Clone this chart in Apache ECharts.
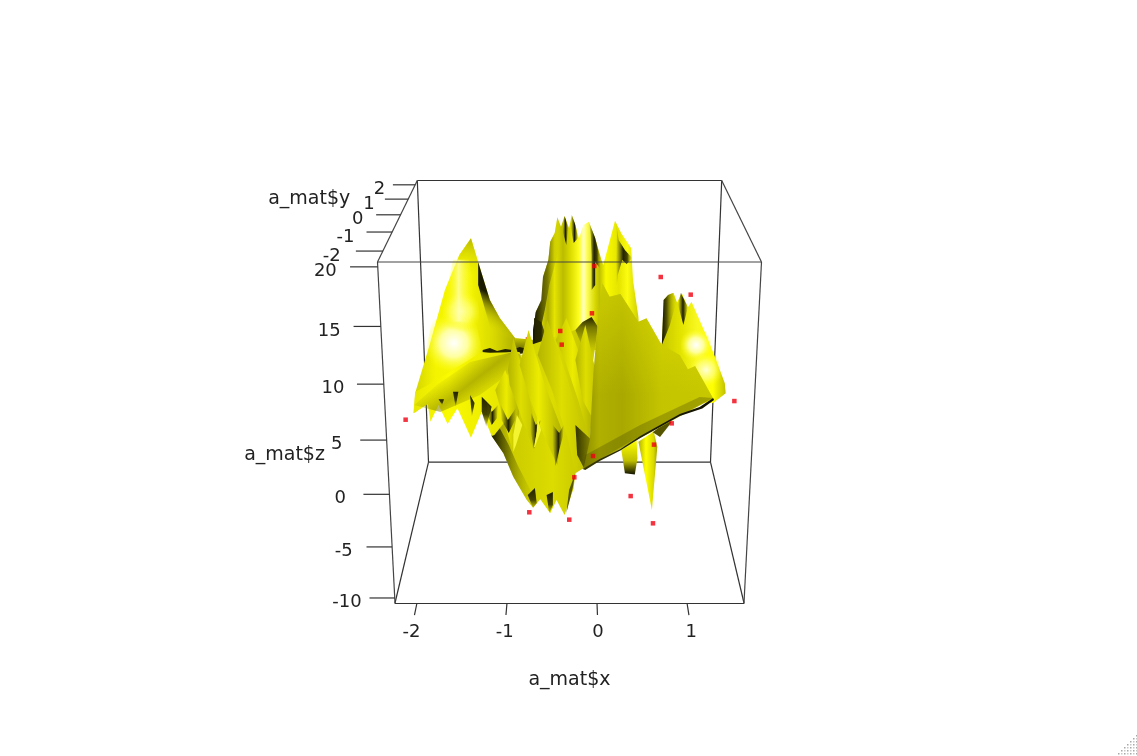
<!DOCTYPE html>
<html><head><meta charset="utf-8">
<style>html,body{margin:0;padding:0;background:#fff}#c{width:1137px;height:756px}</style>
<script src="https://cdn.jsdelivr.net/npm/echarts@6/dist/echarts.min.js"></script></head>
<body><div id="c"></div><script>
// ---------- tick labels ----------
const xTicks=[-2,-1,0,1];
const yTicks=[-2,-1,0,1,2];
const zTicks=[-10,-5,0,5,10,15,20];
// ---------- red observations, as seen on the x / z view plane ----------
const pointX=[-1.444,-.459,-.167,.374,-.03,.708,1.041,-.056,-.408,-.392,-2.126,1.526,.83,.633,-.044,-.252,.374,-.752,-.308,.622];
const pointZ=[23.33,25.36,24.93,24.72,20.04,19.04,17.44,15.75,14.15,12.91,6.11,7.8,5.78,3.85,2.82,.89,-.81,-2.28,-2.95,-3.28];
const hiddenPointX=[-.767,.756];
const hiddenPointZ=[13.38,5.72];
// ---------- surface sheets: [x,z] on the view plane, back to front ----------
const leftPeak=[[-1.40,22.55],[-1.32,20.40],[-1.19,16.96],[-1.08,15.33],[-.91,13.51],[-.86,12.25],[-1.19,12.25],[-1.78,8.17],[-2.03,6.72],[-2.02,8.53],[-1.86,12.88],[-1.69,17.86],[-1.53,21.03]];
const peakCap=[[-1.40,22.55],[-1.32,20.40],[-1.27,19.0],[-1.62,19.0],[-1.53,21.03]];
const glowLow=[[-1.80,16.5],[-1.38,16.5],[-1.28,12.43],[-1.41,9.6],[-1.74,9.6],[-1.90,12.43]];
const glowMid=[[-1.68,18.6],[-1.34,18.6],[-1.30,15.0],[-1.36,13.2],[-1.66,13.2],[-1.72,15.0]];
const glowHigh=[[-1.60,20.6],[-1.42,20.6],[-1.36,17.4],[-1.40,15.0],[-1.64,15.0],[-1.68,17.4]];
const peakShadow=[[-1.32,20.40],[-1.19,16.96],[-1.08,15.33],[-.91,13.51],[-.86,12.25],[-1.11,12.25],[-1.21,15.15],[-1.32,18.32]];
const valley=[[-.91,13.51],[-.69,13.33],[-.58,13.79],[-.52,12.25],[-.91,12.07]];
const wiggle=[[-1.27,12.43],[-1.19,12.61],[-1.11,12.34],[-1.02,12.52],[-.94,12.43],[-.86,12.70],[-.74,12.43],[-.63,12.52],[-.56,12.43],[-.56,12.16],[-.74,12.07],[-.91,12.25],[-1.11,12.07],[-1.27,12.25]];
const midMountain=[[-.71,12.43],[-.71,14.24],[-.68,15.90],[-.61,16.96],[-.60,19.07],[-.54,20.58],[-.52,22.24],[-.47,23.03],[-.44,24.45],[-.40,23.60],[-.36,24.57],[-.31,23.45],[-.28,24.66],[-.24,23.75],[-.20,22.55],[-.15,23.75],[-.09,24.05],[-.02,22.55],[.05,20.58],[.07,20.13],[.20,24.14],[.27,23.0],[.38,21.64],[.40,18.77],[.46,15.44],[.48,12.43]];
const midEdge=[[-.60,19.04],[-.54,20.58],[-.52,22.21],[-.47,23.03],[-.44,24.48],[-.40,22.39],[-.46,20.40],[-.53,18.32],[-.58,16.05],[-.63,14.24],[-.69,12.61],[-.71,12.88],[-.71,14.24],[-.68,15.87],[-.62,16.96]];
const midDarkLow=[[-.70,15.33],[-.62,14.96],[-.50,12.16],[-.67,12.07]];
const spikeA=[[-.36,24.57],[-.32,23.48],[-.34,21.94],[-.38,23.12]];
const spikeB=[[-.28,24.66],[-.24,23.75],[-.21,22.58],[-.26,22.12],[-.29,23.48]];
const stripeB=[[-.09,24.02],[-.02,22.58],[.04,20.58],[.03,19.86],[-.02,20.40],[-.02,18.32],[-.06,17.86],[-.06,21.03],[-.07,22.85]];
const stripeC=[[.21,24.11],[.24,22.39],[.31,21.49],[.39,20.76],[.33,20.22],[.28,20.58],[.23,19.22],[.22,18.32],[.21,20.40],[.22,22.85]];
const bump=[[-.27,13.97],[-.16,14.96],[-.06,15.42],[.01,14.51],[-.04,11.52],[-.14,12.61],[-.22,12.43]];
const rightMountain=[[.72,12.88],[.74,16.96],[.79,17.41],[.85,17.62],[.89,16.71],[.94,17.62],[1.01,16.29],[1.05,16.80],[1.22,13.63],[1.31,11.82],[1.42,9.41],[1.43,8.50],[1.29,7.62],[.72,7.62]];
const rightGlowA=[[.92,14.24],[1.26,14.24],[1.28,11.52],[.94,11.52]];
const rightGlowB=[[1.03,12.25],[1.34,12.25],[1.39,9.26],[1.08,8.98]];
const rightDarkA=[[.74,16.96],[.79,17.41],[.84,17.59],[.88,16.68],[.81,14.69],[.72,12.88]];
const rightDarkB=[[.93,17.59],[1.01,16.32],[.96,14.69],[.90,16.50]];
const stalA=[[.27,3.37],[.44,4.27],[.45,2.64],[.42,1.15],[.31,1.25]];
const stalB=[[.46,4.12],[.63,5.03],[.67,3.66],[.61,-2.07],[.50,2.46]];
const stalC=[[.62,4.98],[.79,6.09],[.83,5.90],[.70,4.54]];
const lowerMass=[[-1.17,4.63],[-1.04,3.07],[-.93,.95],[-.78,-1.17],[-.71,-1.86],[-.63,-1.10],[-.52,-2.37],[-.45,-1.17],[-.36,-2.52],[-.26,-.10],[-.24,1.25],[-.15,1.71],[-.08,4.27],[-.04,10.32],[-.24,14.24],[-.74,12.88],[-1.08,8.80]];
const massEdge=[[-1.17,4.63],[-1.04,3.07],[-.93,.95],[-.78,-1.17],[-.71,-1.80],[-.74,-.26],[-.88,1.97],[-.98,3.82],[-1.10,5.63],[-1.19,6.99]];
const tipA=[[-.77,-.71],[-.69,-.08],[-.67,-1.44],[-.71,-1.89]];
const tipB=[[-.56,-.71],[-.49,-.44],[-.49,-1.62],[-.53,-2.34]];
const tipC=[[-.24,1.28],[-.27,-.08],[-.34,-2.34],[-.31,-.26]];
const foldLeft=[[-2.04,6.69],[-2.02,8.62],[-1.78,9.71],[-1.30,12.15],[-.86,12.25],[-.74,8.80],[-1.14,4.72],[-1.17,4.63],[-1.28,6.84],[-1.40,4.48],[-1.55,7.14],[-1.66,5.72],[-1.76,7.44],[-1.85,5.93],[-1.88,7.53]];
const foldCrease=[[-2.03,7.44],[-1.78,9.25],[-1.41,11.34],[-.93,12.25],[-.74,11.70],[-1.30,8.35],[-1.74,6.81]];
const notchA=[[-1.76,7.96],[-1.70,7.96],[-1.72,7.44]];
const notchB=[[-1.60,8.65],[-1.54,8.65],[-1.57,7.29]];
const notchC=[[-1.41,8.35],[-1.36,7.62],[-1.39,6.38]];
const notchD=[[-1.28,8.20],[-1.17,7.29],[-1.23,5.48],[-1.28,6.84]];
const fanZ=[[-1.02,10.62],[-.86,6.99],[-.93,3.09],[-1.02,5.63],[-1.13,8.80]];
const fanA=[[-.93,13.51],[-.79,9.71],[-.70,6.08],[-.71,3.55],[-.83,6.08],[-.97,9.26],[-.99,10.62]];
const fanB=[[-.76,14.24],[-.58,9.26],[-.39,5.18],[-.44,2.01],[-.57,4.27],[-.74,7.90],[-.86,11.07]];
const fanC=[[-.55,15.15],[-.34,10.16],[-.13,4.27],[-.24,1.28],[-.32,4.27],[-.50,8.80],[-.66,11.97]];
const fanD=[[-.34,15.33],[-.17,11.52],[-.04,7.90],[-.08,4.27],[-.21,7.90],[-.36,11.52],[-.46,13.33]];
const fanE=[[-.13,14.69],[-.01,10.34],[-.04,6.08],[-.16,7.90],[-.24,11.52]];
const zigU1=[[-1.22,7.72],[-1.17,6.81],[-1.10,7.44],[-1.11,6.27],[-1.17,5.63],[-1.22,6.63]];
const zigU2=[[-1.07,7.44],[-.99,6.08],[-.90,7.17],[-.91,6.08],[-.98,4.91],[-1.06,6.08]];
const zigU3=[[-.73,6.72],[-.68,5.63],[-.62,6.08],[-.67,4.98],[-.70,3.46],[-.74,5.18]];
const zigU4=[[-.49,5.63],[-.42,4.91],[-.37,5.63],[-.38,4.54],[-.42,3.37],[-.46,1.92],[-.49,3.82]];
const brightB=[[-.89,6.54],[-.83,5.63],[-.90,3.82],[-.93,3.19],[-.93,4.73]];
const brightC=[[-.66,6.27],[-.62,5.18],[-.69,3.64],[-.70,3.64],[-.67,4.98]];
const flatDarkTip=[[-.24,5.63],[-.06,4.27],[-.14,1.65],[-.22,2.91]];
const flatSheet=[[.06,18.47],[.14,17.26],[.26,17.50],[.46,14.99],[.55,15.30],[.72,12.88],[.92,11.97],[1.01,10.68],[1.09,10.98],[1.29,8.05],[-.15,1.64],[-.08,4.27],[-.04,10.34],[.01,15.14]];
const flatShade=[[-.13,2.91],[.48,5.63],[1.14,8.17],[1.29,8.08],[.48,4.63],[-.16,1.65]];
const flatEdge=[[-.16,1.65],[.03,2.55],[.26,3.46],[.48,4.63],[.70,5.63],[.92,6.63],[1.14,7.26],[1.29,8.08],[1.30,7.90],[1.17,7.13],[.92,6.45],[.70,5.45],[.48,4.45],[.26,3.32],[.03,2.37],[-.13,1.55]];

// ---------- view and paint ----------
const xLo=-2.244,xHi=1.633,yLo=-2.53,yHi=2.32,zLo=-10.5,zHi=20.4,xMid=(xLo+xHi)/2;
function project(x,y,z){
  const s=(y-yLo)/(yHi-yLo),t=(z-zLo)/(zHi-zLo),w=1+.2376*s-.0911*t;
  return [xMid+(x-xMid)/w, zLo+(zHi-zLo)*1.7683*(1-(1-.05174*s-.6051*t)/w)];
}
const G=echarts.graphic;
const stops=a=>a.map(p=>({offset:p[0],color:p[1]}));
const H=a=>new G.LinearGradient(0,0,1,0,stops(a));
const V=a=>new G.LinearGradient(0,0,0,1,stops(a));
const D=(x0,y0,x1,y1,a)=>new G.LinearGradient(x0,y0,x1,y1,stops(a));
const R=(cx,cy,r,a)=>new G.RadialGradient(cx,cy,r,stops(a));
const darkSlit=H([[0,'rgba(40,40,0,0)'],[.5,'#1c1c00'],[1,'rgba(40,40,0,0)']]);
const softSlit=H([[0,'rgba(60,60,0,0)'],[.45,'#222200'],[.7,'#444400'],[1,'rgba(160,160,0,0)']]);
const notch=V([[0,'#222200'],[.6,'#444400'],[1,'rgba(100,100,0,.15)']]);
const zig=H([[0,'rgba(100,100,0,.1)'],[.5,'#1e1e00'],[1,'rgba(100,100,0,.1)']]);
const fanPaint=H([[0,'#b4b400'],[.5,'#dede00'],[1,'#c4c400']]);
const fanPaintB=H([[0,'#c0c000'],[.45,'#ecec00'],[1,'#b0b000']]);
const glow=R(.5,.5,.55,[[0,'#ffffff'],[.45,'#ffffa0'],[1,'rgba(255,255,0,0)']]);
const softGlow=R(.5,.5,.55,[[0,'#ffffd8'],[.5,'rgba(255,255,130,.7)'],[1,'rgba(255,255,0,0)']]);
const sheets=[
 [leftPeak,H([[0,'#d4d400'],[.2,'#f4f400'],[.5,'#f6f600'],[.75,'#dada00'],[1,'#a8a800']])],
 [peakCap,V([[0,'#b8b800'],[1,'rgba(240,240,0,0)']])],
 [glowLow,glow],[glowMid,softGlow],[glowHigh,H([[0,'rgba(255,255,0,0)'],[.45,'rgba(255,255,170,.8)'],[1,'rgba(255,255,0,0)']])],
 [peakShadow,D(.25,.75,.6,.42,[[0,'rgba(220,220,0,0)'],[.65,'rgba(130,130,0,.85)'],[1,'#1a1a00']])],
 [valley,V([[0,'#dddd00'],[.7,'#777700'],[1,'#222200']])],
 [midMountain,H([[0,'#6a6a00'],[.08,'#d0d000'],[.14,'#b0b000'],[.2,'#e4e400'],[.28,'#bcbc00'],[.35,'#dcdc00'],[.43,'#ffff20'],[.47,'#ffffc8'],[.5,'#ffff60'],[.58,'#d8d800'],[.62,'#c0c000'],[.68,'#fafa00'],[.8,'#e4e400'],[.88,'#fcfc10'],[1,'#c8c800']])],
 [midEdge,H([[0,'#111100'],[.5,'rgba(100,100,0,.8)'],[1,'rgba(230,230,0,0)']])],
 [midDarkLow,H([[0,'#222200'],[.4,'#2a2a00'],[1,'rgba(150,150,0,0)']])],
 [wiggle,'#222200'],
 [spikeA,darkSlit],[spikeB,darkSlit],[stripeB,softSlit],[stripeC,softSlit],
 [bump,V([[0,'#222200'],[.25,'#777700'],[.7,'#c0c000'],[1,'#dddd00']])],
 [rightMountain,H([[0,'#c8c800'],[.3,'#e4e400'],[.55,'#f8f820'],[.8,'#ffff00'],[1,'#c0c000']])],
 [rightGlowA,glow],[rightGlowB,softGlow],
 [rightDarkA,H([[0,'#111100'],[.35,'#555500'],[1,'rgba(200,200,0,0)']])],
 [rightDarkB,darkSlit],
 [stalA,V([[0,'#ffff00'],[.6,'#c0c000'],[1,'#111100']])],
 [stalB,H([[0,'#b0b000'],[.4,'#ffff00'],[.8,'#d8d800'],[1,'#a0a000']])],
 [stalC,'#555500'],
 [lowerMass,H([[0,'#888800'],[.2,'#cccc00'],[.6,'#dcdc00'],[1,'#c0c000']])],
 [massEdge,H([[0,'#111100'],[1,'rgba(170,170,0,.1)']])],
 [tipA,notch],[tipB,notch],[tipC,'#555500'],
 [foldLeft,H([[0,'#e8e800'],[.3,'#fafa00'],[1,'#dcdc00']])],
 [foldCrease,D(.38,.2,.62,.8,[[0,'rgba(140,140,0,0)'],[.5,'rgba(140,140,0,.6)'],[1,'rgba(140,140,0,0)']])],
 [notchA,notch],[notchB,notch],[notchC,notch],[notchD,notch],
 [fanZ,fanPaintB],[fanA,fanPaint],[fanB,fanPaintB],[fanC,fanPaint],[fanD,fanPaintB],[fanE,fanPaint],
 [zigU1,zig],[zigU2,zig],[zigU3,zig],[zigU4,zig],
 [brightB,'#f4f430'],[brightC,'#f4f430'],
 [flatDarkTip,H([[0,'#333300'],[1,'#888800']])],
 [flatSheet,H([[0,'#8c8c00'],[.12,'#b0b000'],[.3,'#a8a800'],[.6,'#c4c400'],[1,'#c8c800']])],
 [flatSheet,V([[0,'rgba(255,255,0,.35)'],[.6,'rgba(255,255,0,0)']])],
 [flatShade,'rgba(70,70,0,.3)'],
 [flatEdge,H([[0,'#3a3a00'],[.6,'#1a1a00'],[1,'#111100']])]
];
const backEdges=[[[xLo,yHi,zHi],[xHi,yHi,zHi]],[[xLo,yHi,zLo],[xHi,yHi,zLo]],[[xLo,yHi,zLo],[xLo,yHi,zHi]],[[xHi,yHi,zLo],[xHi,yHi,zHi]],[[xLo,yLo,zLo],[xLo,yHi,zLo]],[[xHi,yLo,zLo],[xHi,yHi,zLo]]];
const frontEdges=[[[xLo,yLo,zHi],[xHi,yLo,zHi]],[[xLo,yLo,zLo],[xLo,yLo,zHi]],[[xHi,yLo,zLo],[xHi,yLo,zHi]],[[xLo,yLo,zHi],[xLo,yHi,zHi]],[[xHi,yLo,zHi],[xHi,yHi,zHi]]];
const tickSegs=[
 ...xTicks.map(x=>[[x,yLo,zLo],[x,yLo-.33,zLo]]),
 ...yTicks.map(y=>[[xLo,y,zHi],[xLo-.28,y,zHi]]),
 ...zTicks.map(z=>[[xLo,yLo,z],[xLo-.28,yLo,z]])
];
const xLabels=xTicks.map(x=>[String(x),[x,yLo-.7,zLo]]);
const yLabels=yTicks.map(y=>[String(y),[xLo-.53+.02*(y+2),y,zHi]]);
const zLabels=zTicks.map(z=>[String(z),[xLo-.53,yLo,z]]);
function segSeries(name,segs,z,color,lw){return {name,type:'custom',z,silent:true,data:segs.map((_,i)=>[i]),
  renderItem(p,api){const [a,b]=segs[p.dataIndex];const A=api.coord(project(...a)),B=api.coord(project(...b));
   return {type:'line',shape:{x1:A[0],y1:A[1],x2:B[0],y2:B[1]},style:{stroke:color,lineWidth:lw}};}};}
function textSeries(name,items,size,dy){return {name,type:'custom',z:6,silent:true,data:items.map((_,i)=>[i]),
  renderItem(p,api){const [t,q]=items[p.dataIndex];const A=api.coord(project(...q));
   return {type:'text',x:A[0],y:A[1]+dy,style:{text:t,fill:'#222',font:size+'px "DejaVu Sans"',textAlign:'center',textVerticalAlign:'middle'}};}};}
const grip=[];
for(let i=0;i<8;i++)for(let j=0;j<8;j++){if(i+j>=7)grip.push({type:'rect',shape:{x:1115+i*3,y:735+j*3,width:1.5,height:1.5},style:{fill:(i+j)%2?'#a8a8a8':'#c8c8c8'}});}
const chart=echarts.init(document.getElementById('c'),null,{renderer:'canvas'});
chart.setOption({
 animation:false,backgroundColor:'#ffffff',
 grid:{left:395,top:262,width:349,height:341,containLabel:false},
 xAxis:{type:'value',min:xLo,max:xHi,splitLine:{show:false},axisTick:{show:false},axisLabel:{show:false},
  axisLine:{show:true,onZero:false,lineStyle:{color:'#333',width:1.2}},name:'a_mat$x',nameLocation:'middle',nameGap:68,
  nameTextStyle:{color:'#222',fontFamily:'DejaVu Sans',fontSize:19}},
 yAxis:{type:'value',min:zLo,max:zHi,show:false,splitLine:{show:false}},
 graphic:{elements:grip},
 series:[
  segSeries('back box',backEdges,1,'#333',1.2),
  {name:'covered points',type:'scatter',z:1,symbol:'rect',symbolSize:4.5,itemStyle:{color:'#f00010'},silent:true,data:hiddenPointX.map((x,i)=>[x,hiddenPointZ[i]])},
  {name:'surface',type:'custom',z:2,silent:true,data:sheets.map((_,i)=>[i]),
   renderItem(p,api){const [pts,paint]=sheets[p.dataIndex];
    return {type:'polygon',shape:{points:pts.map(q=>api.coord(q))},style:{fill:paint,stroke:null}};}},
  segSeries('front box',frontEdges,3,'#444',1.2),
  segSeries('ticks',tickSegs,3,'#333',1.2),
  {name:'points',type:'scatter',z:4,symbol:'rect',symbolSize:4.5,itemStyle:{color:'#f00010'},silent:true,data:pointX.map((x,i)=>[x,pointZ[i]])},
  textSeries('x labels',xLabels,18,3),
  textSeries('y labels',yLabels,18,5),
  textSeries('z labels',zLabels,18,4.5),
  textSeries('y title',[['a_mat$y',[xLo-1.19,1.0,zHi]]],19,0),
  textSeries('z title',[['a_mat$z',[xLo-1.09,yLo,4.2]]],19,6)
 ]
});
</script></body></html>
